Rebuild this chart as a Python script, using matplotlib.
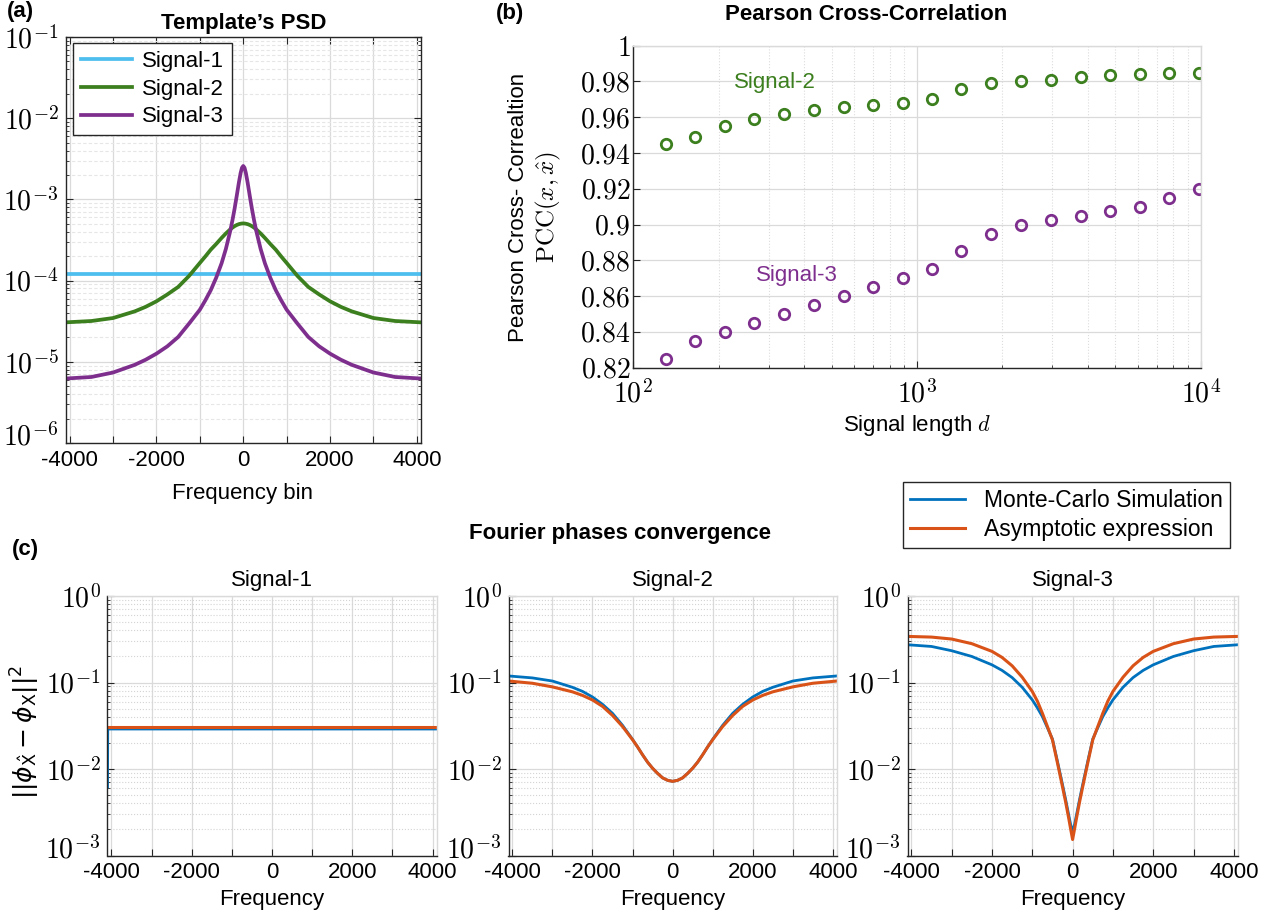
import matplotlib
matplotlib.use('Agg')
import matplotlib.pyplot as plt
import matplotlib.transforms as mtransforms
from matplotlib.ticker import LogLocator, NullFormatter

plt.rcParams['font.family'] = ['Liberation Sans', 'DejaVu Sans']
plt.rcParams['mathtext.fontset'] = 'cm'
plt.rcParams['font.size'] = 16

W, H = 1266, 917

# ---- (a) template PSD
psd_freq = [-4096, -3500, -3000, -2500, -2250, -2000, -1750, -1500, -1250, -1000, -875, -750, -625,
            -500, -400, -300, -250, -200, -150, -100, -60, -30, 0, 30, 60, 100, 150, 200, 250, 300,
            400, 500, 625, 750, 875, 1000, 1250, 1500, 1750, 2000, 2250, 2500, 3000, 3500, 4096]
psd_sig1_freq = [-4096, 4096]
psd_sig1 = [1.22e-4, 1.22e-4]
psd_sig2 = [3.06e-5, 3.18e-5, 3.46e-5, 4.18e-5, 4.75e-5, 5.56e-5, 6.75e-5, 8.35e-5, 1.14e-4, 1.65e-4,
            1.98e-4, 2.4e-4, 2.82e-4, 3.35e-4, 3.81e-4, 4.27e-4, 4.49e-4, 4.68e-4, 4.84e-4, 4.96e-4,
            5.02e-4, 5.05e-4, 5.06e-4, 5.05e-4, 5.02e-4, 4.96e-4, 4.84e-4, 4.68e-4, 4.49e-4, 4.27e-4,
            3.81e-4, 3.35e-4, 2.82e-4, 2.4e-4, 1.98e-4, 1.65e-4, 1.14e-4, 8.35e-5, 6.75e-5, 5.56e-5,
            4.75e-5, 4.18e-5, 3.46e-5, 3.18e-5, 3.06e-5]
psd_sig3 = [6.22e-6, 6.5e-6, 7.38e-6, 9.18e-6, 1.06e-5, 1.26e-5, 1.55e-5, 2.02e-5, 2.95e-5, 4.38e-5,
            5.7e-5, 7.6e-5, 1.08e-4, 1.63e-4, 2.46e-4, 4.08e-4, 5.5e-4, 7.66e-4, 1.107e-3, 1.62e-3,
            2.12e-3, 2.45e-3, 2.58e-3, 2.45e-3, 2.12e-3, 1.62e-3, 1.107e-3, 7.66e-4, 5.5e-4, 4.08e-4,
            2.46e-4, 1.63e-4, 1.08e-4, 7.6e-5, 5.7e-5, 4.38e-5, 2.95e-5, 2.02e-5, 1.55e-5, 1.26e-5,
            1.06e-5, 9.18e-6, 7.38e-6, 6.5e-6, 6.22e-6]
psd_labels = ['Signal-1', 'Signal-2', 'Signal-3']

# ---- (b) Pearson cross-correlation
pcc_d = [130, 165, 210, 267, 340, 434, 551, 700, 890, 1131, 1435, 1830, 2331, 2965, 3773, 4788,
         6095, 7762, 9872]
pcc_sig2 = [0.945, 0.949, 0.955, 0.959, 0.962, 0.964, 0.966, 0.967, 0.968, 0.970, 0.976, 0.979,
            0.980, 0.981, 0.9825, 0.9835, 0.984, 0.9845, 0.985]
pcc_sig3 = [0.825, 0.835, 0.840, 0.845, 0.850, 0.855, 0.860, 0.865, 0.870, 0.875, 0.885, 0.895,
            0.900, 0.9025, 0.905, 0.9075, 0.910, 0.915, 0.920]

# ---- (c) Fourier phase error
c1_freq = [-4096, -4090, 4096]
c1_mc = [0.0062, 0.029, 0.029]
c1_asym = [0.0302, 0.0302, 0.0302]

c2_freq = [-4096, -4090, -3500, -3000, -2500, -2250, -2000, -1750, -1500, -1250, -1000, -875, -750,
           -625, -500, -375, -250, -125, 0, 125, 250, 375, 500, 625, 750, 875, 1000, 1250, 1500,
           1750, 2000, 2250, 2500, 3000, 3500, 4096]
c2_mc = [0.045, 0.119, 0.113, 0.104, 0.088, 0.079, 0.068, 0.056, 0.044, 0.032, 0.022, 0.018,
         0.0146, 0.012, 0.0102, 0.0089, 0.0079, 0.0074, 0.0072, 0.0074, 0.0079, 0.0089, 0.0102,
         0.012, 0.0146, 0.018, 0.022, 0.032, 0.044, 0.056, 0.068, 0.079, 0.088, 0.104, 0.113, 0.119]
c2_asym = [0.104, 0.104, 0.098, 0.089, 0.078, 0.071, 0.0628, 0.053, 0.0416, 0.031, 0.0218, 0.018,
           0.0146, 0.012, 0.0102, 0.0089, 0.0079, 0.0074, 0.0072, 0.0074, 0.0079, 0.0089, 0.0102,
           0.012, 0.0146, 0.018, 0.0218, 0.031, 0.0416, 0.053, 0.0628, 0.071, 0.078, 0.089, 0.098,
           0.104]

c3_freq = [-4096, -4090, -3500, -3000, -2500, -2000, -1750, -1500, -1250, -1000, -875, -750, -625,
           -500, -375, -250, -175, -100, -50, 0, 50, 100, 175, 250, 375, 500, 625, 750, 875, 1000,
           1250, 1500, 1750, 2000, 2500, 3000, 3500, 4096]
c3_mc = [0.16, 0.273, 0.261, 0.233, 0.200, 0.160, 0.138, 0.114, 0.088, 0.063, 0.051, 0.0404, 0.030,
         0.0222, 0.0122, 0.0066, 0.0045, 0.0030, 0.0023, 0.00188, 0.0023, 0.0030, 0.0045, 0.0066,
         0.0122, 0.0222, 0.030, 0.0404, 0.051, 0.063, 0.088, 0.114, 0.138, 0.160, 0.200, 0.233,
         0.261, 0.273]
c3_asym = [0.341, 0.341, 0.335, 0.318, 0.281, 0.229, 0.195, 0.156, 0.115, 0.0787, 0.061, 0.0442,
           0.031, 0.0217, 0.0117, 0.0062, 0.0042, 0.00275, 0.00204, 0.00153, 0.00204, 0.00275,
           0.0042, 0.0062, 0.0117, 0.0217, 0.031, 0.0442, 0.061, 0.0787, 0.115, 0.156, 0.195,
           0.229, 0.281, 0.318, 0.335, 0.341]
c_titles = ['Signal-1', 'Signal-2', 'Signal-3']
c_labels = ['Monte-Carlo Simulation', 'Asymptotic expression']

# ticks
freq_ticks = [-4000, -3000, -2000, -1000, 0, 1000, 2000, 3000, 4000]
freq_ticklabels = ['-4000', '', '-2000', '', '0', '', '2000', '', '4000']
psd_yticks = [1e-6, 1e-5, 1e-4, 1e-3, 1e-2, 1e-1]
psd_yticklabels = [r'$10^{-6}$', r'$10^{-5}$', r'$10^{-4}$', r'$10^{-3}$', r'$10^{-2}$', r'$10^{-1}$']
pcc_xticks = [1e2, 1e3, 1e4]
pcc_xticklabels = [r'$10^{2}$', r'$10^{3}$', r'$10^{4}$']
pcc_yticks = [0.82, 0.84, 0.86, 0.88, 0.90, 0.92, 0.94, 0.96, 0.98, 1.0]
pcc_yticklabels = [r'$0.82$', r'$0.84$', r'$0.86$', r'$0.88$', r'$0.9$', r'$0.92$', r'$0.94$',
                   r'$0.96$', r'$0.98$', r'$1$']
c_yticks = [1e-3, 1e-2, 1e-1, 1e0]
c_yticklabels = [r'$10^{-3}$', r'$10^{-2}$', r'$10^{-1}$', r'$10^{0}$']

col_s1 = '#4DBEEE'
col_s2 = '#3C7F1E'
col_s3 = '#7E2F8E'
col_mc = '#0072BD'
col_as = '#D95319'
dark = '#262626'
gridc = '#dadada'
serif_size = 20


def px_rect(l, t, r, b):
    return [l / W, 1 - b / H, (r - l) / W, (b - t) / H]


def style(ax, box=True):
    ax.tick_params(which='both', direction='in', top=box, right=box, colors=dark,
                   labelcolor='black', pad=5)
    ax.tick_params(axis='x', labelsize=16)
    ax.tick_params(which='major', length=5, width=0.8)
    ax.tick_params(which='minor', length=2.5, width=0.6)
    ax.grid(which='major', color=gridc, lw=0.9)
    ax.set_axisbelow(True)
    for s in ax.spines.values():
        s.set_color(dark)
        s.set_linewidth(1.0)
    if not box:
        ax.spines['top'].set_color(gridc)
        ax.spines['right'].set_color(gridc)


def lift_bottom_label(ax, pts=6):
    lbl = ax.get_yticklabels()[0]
    lbl.set_transform(lbl.get_transform() + mtransforms.ScaledTranslation(0, pts / 72, fig.dpi_scale_trans))


fig = plt.figure(figsize=(W / 100, H / 100), dpi=100)

# ================= (a)
ax = fig.add_axes(px_rect(65.5, 37, 421, 443))
ax.plot(psd_sig1_freq, psd_sig1, color=col_s1, lw=2.7, label=psd_labels[0])
ax.plot(psd_freq, psd_sig2, color=col_s2, lw=2.7, label=psd_labels[1])
ax.plot(psd_freq, psd_sig3, color=col_s3, lw=2.7, label=psd_labels[2])
ax.set_yscale('log')
ax.set_xlim(-4096, 4096)
ax.set_ylim(1e-6, 1e-1)
ax.set_xticks(freq_ticks, freq_ticklabels)
ax.set_yticks(psd_yticks, psd_yticklabels, fontsize=serif_size)
ax.yaxis.set_minor_locator(LogLocator(base=10, subs=range(2, 10)))
ax.yaxis.set_minor_formatter(NullFormatter())
style(ax, box=True)
ax.grid(which='minor', axis='y', color='#e6e6e6', lw=0.8, ls=(0, (3, 2)))
lift_bottom_label(ax)
ax.set_title('Template\u2019s PSD', fontweight='bold', fontsize=16, pad=6)
ax.legend(loc='upper left', bbox_to_anchor=(73.3 / W, 1 - 43.3 / H), bbox_transform=fig.transFigure,
          borderaxespad=0, fancybox=False, edgecolor=dark, framealpha=1, fontsize=16,
          handlelength=2.3, handletextpad=0.45, labelspacing=0.3, borderpad=0.35)
fig.text(243 / W, 1 - 494 / H, 'Frequency bin', ha='center', va='center', fontsize=16)
fig.text(20 / W, 1 - 11 / H, '(a)', ha='center', va='center', fontsize=16, fontweight='bold')

# ================= (b)
ax = fig.add_axes(px_rect(633.3, 45.7, 1200.7, 367.7))
ax.plot(pcc_d, pcc_sig2, 'o', mfc='none', mec=col_s2, mew=2.0, ms=7.5)
ax.plot(pcc_d, pcc_sig3, 'o', mfc='none', mec=col_s3, mew=2.0, ms=7.5)
ax.set_xscale('log')
ax.set_xlim(1e2, 1e4)
ax.set_ylim(0.82, 1.0)
ax.set_xticks(pcc_xticks, pcc_xticklabels, fontsize=serif_size)
ax.set_yticks(pcc_yticks, pcc_yticklabels, fontsize=serif_size)
ax.xaxis.set_minor_locator(LogLocator(base=10, subs=range(2, 10)))
ax.xaxis.set_minor_formatter(NullFormatter())
style(ax, box=False)
ax.tick_params(axis='x', labelsize=serif_size, pad=9)
ax.tick_params(axis='y', pad=2)
ax.grid(which='minor', axis='x', color='#dcdcdc', lw=0.8, ls=':')
ax.text(316, 0.9797, 'Signal-2', color=col_s2, ha='center', va='center', fontsize=16)
ax.text(377, 0.8718, 'Signal-3', color=col_s3, ha='center', va='center', fontsize=16)
fig.text(866 / W, 1 - 15 / H, 'Pearson Cross-Correlation', ha='center', va='center',
         fontsize=16, fontweight='bold')
fig.text(917 / W, 1 - 425 / H, r'Signal length $d$', ha='center', va='center', fontsize=16)
fig.text(519 / W, 1 - 207 / H, 'Pearson Cross- Correaltion', ha='center', va='center',
         rotation=90, fontsize=16)
fig.text(548 / W, 1 - 207 / H, r'$\mathrm{PCC}(x,\hat{x})$', ha='center', va='center',
         rotation=90, fontsize=18)
fig.text(510 / W, 1 - 14 / H, '(b)', ha='center', va='center', fontsize=16, fontweight='bold')

# ================= (c)
c_rects = [(107.5, 596, 436.5, 855.5), (508.5, 596, 836.7, 855.5), (907.5, 596, 1237.7, 855.5)]
c_data = [(c1_freq, c1_mc, c1_asym), (c2_freq, c2_mc, c2_asym), (c3_freq, c3_mc, c3_asym)]
handles = []
for i in range(3):
    ax = fig.add_axes(px_rect(*c_rects[i]))
    fr, mc, asym = c_data[i]
    h1, = ax.plot(fr, mc, color=col_mc, lw=2.0)
    h2, = ax.plot(fr, asym, color=col_as, lw=2.2)
    handles = [h1, h2]
    ax.set_yscale('log')
    ax.set_xlim(-4096, 4096)
    ax.set_ylim(1e-3, 1e0)
    ax.set_xticks(freq_ticks, freq_ticklabels)
    ax.set_yticks(c_yticks, c_yticklabels, fontsize=serif_size)
    ax.yaxis.set_minor_locator(LogLocator(base=10, subs=range(2, 10)))
    ax.yaxis.set_minor_formatter(NullFormatter())
    style(ax, box=False)
    ax.grid(which='minor', axis='y', color='#d4d4d4', lw=0.8, ls=':')
    lift_bottom_label(ax)
    ax.set_title(c_titles[i], fontsize=16, pad=7)
    cx = (c_rects[i][0] + c_rects[i][2]) / 2
    fig.text(cx / W, 1 - 900 / H, 'Frequency', ha='center', va='center', fontsize=16)

fig.text(25 / W, 1 - 732 / H, r'$||\phi_{\hat{\mathrm{X}}}-\phi_{\mathrm{X}}||^2$', ha='center',
         va='center', rotation=90, fontsize=18, math_fontfamily='dejavusans')
fig.text(620 / W, 1 - 533 / H, 'Fourier phases convergence', ha='center', va='center',
         fontsize=16, fontweight='bold')
fig.text(25 / W, 1 - 550 / H, '(c)', ha='center', va='center', fontsize=16, fontweight='bold')
fig.legend(handles, c_labels, loc='upper right', bbox_to_anchor=(1230 / W, 1 - 481.7 / H),
           bbox_transform=fig.transFigure, borderaxespad=0, fancybox=False, edgecolor=dark,
           framealpha=1, fontsize=16.5, handlelength=2.4, handletextpad=0.85, labelspacing=0.3,
           borderpad=0.3)

fig.savefig('out.png', dpi=100)
